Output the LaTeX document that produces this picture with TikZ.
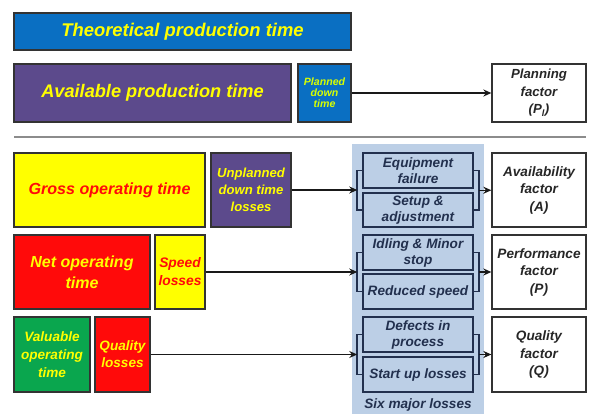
\documentclass[tikz,border=0pt]{standalone}
\usepackage{fontspec}
\setmainfont{Liberation Sans}
\usetikzlibrary{arrows.meta,calc}
\definecolor{tblue}{HTML}{0A6FC2}
\definecolor{tpurple}{HTML}{5C4A8C}
\definecolor{tyellow}{HTML}{FFFF00}
\definecolor{tred}{HTML}{FF0A0A}
\definecolor{tgreen}{HTML}{0AA64E}
\definecolor{tpanel}{HTML}{BCCFE6}
\definecolor{tnavy}{HTML}{22304E}
\definecolor{tborder}{HTML}{333333}
\newcommand{\bi}[2]{\bfseries\itshape\fontsize{#1}{#2}\selectfont}
\tikzset{
  box/.style={draw=tborder, line width=1.5pt, inner sep=1pt, align=center,
    anchor=center},
  lossbox/.style={draw=tnavy, line width=1.5pt, fill=tpanel, inner sep=1pt,
    align=center, font=\bi{13.6}{16}, text=tnavy, minimum width=110pt},
  factorbox/.style={draw=tborder, line width=1.3pt, fill=white, inner sep=1pt,
    align=center, font=\bi{13.6}{17.5}, text=black!85, minimum width=94pt},
  link/.style={line width=1.7pt, draw=black!90, -{Stealth[length=8pt,width=7pt]}},
  bracket/.style={line width=1.7pt, draw=tnavy},
}
\begin{document}
\begin{tikzpicture}[x=1pt,y=-1pt]
\useasboundingbox (0,0) rectangle (589,414);
\fill[white] (0,0) rectangle (589,414);

% top part: theoretical and available time
\node[box, fill=tblue, text=tyellow, minimum width=337pt, minimum height=37pt,
  font=\bi{18.4}{20}] (theo) at (182.5,31.5) {Theoretical production time};
\node[box, fill=tpurple, text=tyellow, minimum width=277pt, minimum height=58pt,
  font=\bi{18.2}{20}] (avail) at (152.5,93) {Available production time};
\node[box, fill=tblue, text=tyellow!85!green, minimum width=53pt, minimum height=58pt,
  font=\bi{10.6}{11}] (planned) at (324.5,93) {Planned\\down\\time};
\node[factorbox, minimum height=58pt, font=\bi{13.2}{17.5}]
  (planf) at (539,93) {Planning\\factor\\(P\textsubscript{l})};
\draw[link] (planned.east) -- (planf.west);

% separator
\coordinate (sepL) at (14,137);
\coordinate (sepR) at (586,137);
\draw[line width=2.2pt, draw=black!45] (sepL) -- (sepR);

% time categories and their losses
\node[box, fill=tyellow, text=tred, minimum width=191pt, minimum height=74pt,
  font=\bi{16.1}{18}] (gross) at (109.5,190) {Gross operating time};
\node[box, fill=tpurple, text=tyellow, minimum width=80pt, minimum height=74pt,
  font=\bi{13.1}{17}] (unpl) at (251,190) {Unplanned\\down time\\losses};
\node[box, fill=tred, text=tyellow, minimum width=136pt, minimum height=74pt,
  font=\bi{16}{21}] (net) at (82,272) {Net operating\\time};
\node[box, fill=tyellow, text=tred, minimum width=50pt, minimum height=74pt,
  font=\bi{13.8}{18}] (speed) at (180,272) {Speed\\losses};
\node[box, fill=tgreen, text=tyellow, minimum width=76pt, minimum height=75pt,
  font=\bi{13.6}{18}] (valu) at (52,354.5) {Valuable\\operating\\time};
\node[box, fill=tred, text=tyellow, minimum width=55pt, minimum height=75pt,
  font=\bi{13.6}{17}] (qual) at (122.5,354.5) {Quality\\losses};

% six major losses panel
\fill[tpanel] (352,144) rectangle (484,414);
\node[lossbox, minimum height=35pt] (eq) at (418,170.5) {Equipment\\failure};
\node[lossbox, minimum height=34pt] (setup) at (418,210) {Setup \&\\adjustment};
\node[lossbox, minimum height=35pt] (idle) at (418,252.5) {Idling \& Minor\\stop};
\node[lossbox, minimum height=35pt] (slow) at (418,291.5) {Reduced speed};
\node[lossbox, minimum height=35pt] (defect) at (418,334.5) {Defects in\\process};
\node[lossbox, minimum height=35pt] (startup) at (418,374.5) {Start up losses};
\node[font=\bi{13.6}{15}, text=tnavy] (six) at (418,404.5) {Six major losses};

% resulting factors
\node[factorbox, minimum height=74pt] (availf) at (539,190)
  {Availability\\factor\\(A)};
\node[factorbox, minimum height=74pt] (perff) at (539,272)
  {Performance\\factor\\(P)};
\node[factorbox, minimum height=75pt] (qualf) at (539,354.5)
  {Quality\\factor\\(Q)};

% brackets grouping each pair of losses, with incoming and outgoing arrows
\foreach \a/\b/\src/\dst/\k in {eq/setup/unpl/availf/1, idle/slow/speed/perff/2,
                                defect/startup/qual/qualf/3} {
  \coordinate (lt\k) at ($(\a.west)+(-5,0)$);
  \coordinate (lb\k) at ($(\b.west)+(-5,0)$);
  \coordinate (rt\k) at ($(\a.east)+(5,0)$);
  \coordinate (rb\k) at ($(\b.east)+(5,0)$);
  \coordinate (lm\k) at ($(lt\k)!0.5!(lb\k)$);
  \coordinate (rm\k) at ($(rt\k)!0.5!(rb\k)$);
  \draw[bracket] (\a.west) -- (lt\k) -- (lb\k) -- (\b.west);
  \draw[bracket] (\a.east) -- (rt\k) -- (rb\k) -- (\b.east);
  \draw[link] (\src.east) -- (\src.east -| lm\k);
  \draw[link, line width=1.4pt] (rm\k) -- (rm\k -| \dst.west);
}
\end{tikzpicture}
\end{document}
